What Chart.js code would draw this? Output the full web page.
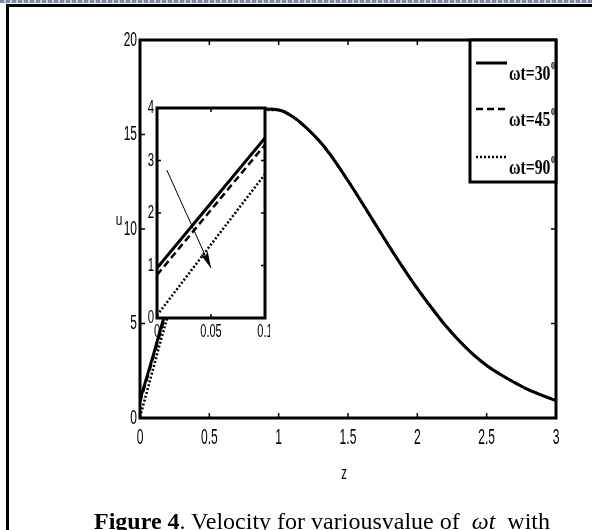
<!DOCTYPE html>
<html>
<head>
<meta charset="utf-8">
<script src="https://cdn.jsdelivr.net/npm/chart.js@4.4.0/dist/chart.umd.min.js"></script>
<style>
html, body { margin: 0; padding: 0; background: #fff; width: 592px; height: 530px; overflow: hidden; }
#wrap { position: relative; width: 592px; height: 530px; }
#topline { position: absolute; left: 0; top: 0; width: 592px; height: 3px;
  background: repeating-linear-gradient(90deg, #7d8aa3 0 4px, #c9cfda 4px 6px); }
#frameTop { position: absolute; left: 6px; top: 4px; width: 586px; height: 3px; background: #000; }
#frameLeft { position: absolute; left: 6px; top: 4px; width: 3px; height: 526px; background: #000; }
#mainChart { position: absolute; left: 0; top: 0; }
#insetChart { position: absolute; left: 130px; top: 95px; }
#caption { position: absolute; left: 94px; top: 508px; font: 24px 'Liberation Serif', 'Times New Roman', serif; white-space: nowrap; }
</style>
</head>
<body>
<div id="wrap">
  <div id="topline"></div>
  <div id="frameTop"></div>
  <div id="frameLeft"></div>
  <canvas id="mainChart" width="592" height="530"></canvas>
  <canvas id="insetChart" width="140" height="250"></canvas>
  <div id="caption"><b>Figure 4</b>. Velocity for variousvalue of &nbsp;<i>ωt</i>&nbsp; with</div>
</div>
<script>
// values
var zVals = [0, 0.05, 0.1, 0.15, 0.2, 0.3, 0.4, 0.5, 0.6, 0.7, 0.8, 0.9, 1.0, 1.1, 1.2, 1.3, 1.4, 1.5,
             1.6, 1.7, 1.8, 1.9, 2.0, 2.1, 2.2, 2.3, 2.4, 2.5, 2.6, 2.7, 2.8, 2.9, 3.0]
var u30 = [0.95, 2.19, 3.43, 4.75, 6.0, 8.4, 10.5, 12.3, 13.8, 14.9, 15.8, 16.35, 16.3, 15.95, 15.35, 14.6, 13.65, 12.55,
           11.4, 10.22, 9.05, 7.92, 6.85, 5.86, 4.92, 4.1, 3.38, 2.78, 2.3, 1.88, 1.5, 1.2, 0.92]
var u45 = [0.82, 2.06, 3.3, 4.6, 5.9, 8.35, 10.48, 12.3, 13.8, 14.9, 15.8, 16.35, 16.3, 15.95, 15.35, 14.6, 13.65, 12.55,
           11.4, 10.22, 9.05, 7.92, 6.85, 5.86, 4.92, 4.1, 3.38, 2.78, 2.3, 1.88, 1.5, 1.2, 0.92]
var u90 = [0.05, 1.4, 2.74, 4.1, 5.4, 8.0, 10.3, 12.2, 13.75, 14.88, 15.78, 16.3, 16.3, 15.95, 15.35, 14.6, 13.65, 12.55,
           11.4, 10.22, 9.05, 7.92, 6.85, 5.86, 4.92, 4.1, 3.38, 2.78, 2.3, 1.88, 1.5, 1.2, 0.92]
var seriesNames = ['ωt=30', 'ωt=45', 'ωt=90']
var seriesSup = ['0', '0', '0']

var xTicks = [0, 0.5, 1, 1.5, 2, 2.5, 3]
var yTicks = [0, 5, 10, 15, 20]
var insetXTicks = [0, 0.05, 0.1]
var insetYTicks = [0, 1, 2, 3, 4]
var xTickLabels = ['0', '0.5', '1', '1.5', '2', '2.5', '3']
var yTickLabels = ['0', '5', '10', '15', '20']
var insetXTickLabels = ['0', '0.05', '0.1']
var insetYTickLabels = ['0', '1', '2', '3', '4']

var arrowFrom = [0.009, 2.82]
var arrowTo = [0.05, 0.95]

function pts(ys) {
    return zVals.map(function (z, i) { return {x: z, y: ys[i]} })
}

function narrowText(ctx, txt, x, y, size, align, baseline, sx, font) {
    ctx.save()
    ctx.translate(x, y)
    ctx.scale(sx, 1)
    ctx.font = font || (size + 'px "Liberation Sans", Arial, sans-serif')
    ctx.textAlign = align
    ctx.textBaseline = baseline
    ctx.fillStyle = '#000'
    ctx.fillText(txt, 0, 0)
    ctx.restore()
}

function makeSets(w) {
    return [
        {label: seriesNames[0], data: pts(u30), borderColor: '#000', borderWidth: w, pointRadius: 0},
        {label: seriesNames[1], data: pts(u45), borderColor: '#000', borderWidth: w - 0.5, borderDash: [7, 4], pointRadius: 0},
        {label: seriesNames[2], data: pts(u90), borderColor: '#000', borderWidth: w - 0.5, borderDash: [2, 2], pointRadius: 0}
    ]
}

function boxAndTicks(ctx, a, x, y, xt, yt, len) {
    ctx.save()
    ctx.strokeStyle = '#000'
    ctx.lineWidth = 1.5
    ctx.beginPath()
    xt.forEach(function (v) {
        var px = x.getPixelForValue(v)
        ctx.moveTo(px, a.bottom); ctx.lineTo(px, a.bottom - len)
        ctx.moveTo(px, a.top); ctx.lineTo(px, a.top + len)
    })
    yt.forEach(function (v) {
        var py = y.getPixelForValue(v)
        ctx.moveTo(a.left, py); ctx.lineTo(a.left + len, py)
        ctx.moveTo(a.right, py); ctx.lineTo(a.right - len, py)
    })
    ctx.stroke()
    ctx.lineWidth = 3
    ctx.strokeRect(a.left, a.top, a.right - a.left, a.bottom - a.top)
    ctx.restore()
}

var mainFrame = {
    id: 'mainFrame',
    afterDatasetsDraw: function (chart) {
        var ctx = chart.ctx, a = chart.chartArea, x = chart.scales.x, y = chart.scales.y
        boxAndTicks(ctx, a, x, y, xTicks, yTicks, 5)
        xTicks.forEach(function (v, i) {
            narrowText(ctx, xTickLabels[i], x.getPixelForValue(v), a.bottom + 20, 22, 'center', 'middle', 0.55)
        })
        yTicks.forEach(function (v, i) {
            narrowText(ctx, yTickLabels[i], a.left - 3, y.getPixelForValue(v), 20, 'right', 'middle', 0.6)
        })
        narrowText(ctx, 'z', (a.left + a.right) / 2 - 4, a.bottom + 56, 19, 'center', 'middle', 0.6)
        narrowText(ctx, 'u', a.left - 21, (a.top + a.bottom) / 2 - 8, 16, 'center', 'middle', 0.75)

        // legend box
        var lx = 470, lb = 182
        ctx.save()
        ctx.fillStyle = '#fff'
        ctx.fillRect(lx, a.top, a.right - lx, lb - a.top)
        ctx.strokeStyle = '#000'
        ctx.lineWidth = 3
        ctx.strokeRect(lx, a.top, a.right - lx, lb - a.top)
        var rows = [63, 109, 157]
        chart.data.datasets.forEach(function (ds, i) {
            var ry = rows[i]
            ctx.save()
            ctx.strokeStyle = ds.borderColor
            ctx.lineWidth = ds.borderWidth
            ctx.setLineDash(ds.borderDash || [])
            ctx.beginPath()
            ctx.moveTo(476, ry); ctx.lineTo(507, ry)
            ctx.stroke()
            ctx.restore()
            var f = 'bold 21px "Liberation Serif", "Times New Roman", serif'
            narrowText(ctx, ds.label, 509, ry + 17, 21, 'left', 'alphabetic', 0.75, f)
            ctx.save()
            ctx.font = f
            var w = ctx.measureText(ds.label).width * 0.75
            ctx.restore()
            narrowText(ctx, seriesSup[i], 509 + w + 0.5, ry + 6, 10, 'left', 'alphabetic', 0.8,
                'bold 10px "Liberation Serif", "Times New Roman", serif')
        })
        ctx.restore()
    }
}

new Chart(document.getElementById('mainChart').getContext('2d'), {
    type: 'line',
    data: {datasets: makeSets(3)},
    options: {
        responsive: false,
        animation: false,
        events: [],
        cubicInterpolationMode: 'monotone',
        layout: {padding: {left: 100, right: 36, top: 40, bottom: 52}},
        plugins: {legend: {display: false}, tooltip: {enabled: false}},
        scales: {
            x: {
                type: 'linear', min: 0, max: 3,
                afterBuildTicks: function (s) { s.ticks = xTicks.map(function (v) { return {value: v} }) },
                afterFit: function (s) { s.height = 60 },
                ticks: {display: false}, grid: {display: false}, border: {display: false}
            },
            y: {
                type: 'linear', min: 0, max: 20,
                afterBuildTicks: function (s) { s.ticks = yTicks.map(function (v) { return {value: v} }) },
                afterFit: function (s) { s.width = 40 },
                ticks: {display: false}, grid: {display: false}, border: {display: false}
            }
        }
    },
    plugins: [mainFrame]
})

var insetFrame = {
    id: 'insetFrame',
    beforeDatasetsDraw: function (chart) {
        var ctx = chart.ctx, a = chart.chartArea
        ctx.save()
        ctx.fillStyle = '#fff'
        ctx.fillRect(a.left, a.top, a.right - a.left, a.bottom - a.top)
        ctx.restore()
    },
    afterDatasetsDraw: function (chart) {
        var ctx = chart.ctx, a = chart.chartArea, x = chart.scales.x, y = chart.scales.y
        // arrow
        var x0 = x.getPixelForValue(arrowFrom[0]), y0 = y.getPixelForValue(arrowFrom[1])
        var x1 = x.getPixelForValue(arrowTo[0]), y1 = y.getPixelForValue(arrowTo[1])
        var ang = Math.atan2(y1 - y0, x1 - x0)
        ctx.save()
        ctx.strokeStyle = '#000'
        ctx.lineWidth = 1
        ctx.beginPath(); ctx.moveTo(x0, y0); ctx.lineTo(x1, y1); ctx.stroke()
        ctx.translate(x1, y1)
        ctx.rotate(ang)
        ctx.fillStyle = '#000'
        ctx.beginPath()
        ctx.moveTo(0, 0); ctx.lineTo(-17, -4); ctx.lineTo(-13, 0); ctx.lineTo(-17, 4); ctx.closePath()
        ctx.fill()
        ctx.restore()

        boxAndTicks(ctx, a, x, y, insetXTicks.slice(1, -1), insetYTicks.slice(1, -1), 4)
        insetXTicks.forEach(function (v, i) {
            narrowText(ctx, insetXTickLabels[i], x.getPixelForValue(v), a.bottom + 14, 19, 'center', 'middle', 0.58)
        })
        insetYTicks.forEach(function (v, i) {
            narrowText(ctx, insetYTickLabels[i], a.left - 3, y.getPixelForValue(v), 19, 'right', 'middle', 0.6)
        })
    }
}

new Chart(document.getElementById('insetChart').getContext('2d'), {
    type: 'line',
    data: {datasets: makeSets(3)},
    options: {
        responsive: false,
        animation: false,
        events: [],
        layout: {padding: {left: 0, right: 5, top: 13, bottom: 0}},
        plugins: {legend: {display: false}, tooltip: {enabled: false}},
        scales: {
            x: {
                type: 'linear', min: 0, max: 0.1,
                afterFit: function (s) { s.height = 27 },
                ticks: {display: false}, grid: {display: false}, border: {display: false}
            },
            y: {
                type: 'linear', min: 0, max: 4,
                afterFit: function (s) { s.width = 27 },
                ticks: {display: false}, grid: {display: false}, border: {display: false}
            }
        }
    },
    plugins: [insetFrame]
})
</script>
</body>
</html>
